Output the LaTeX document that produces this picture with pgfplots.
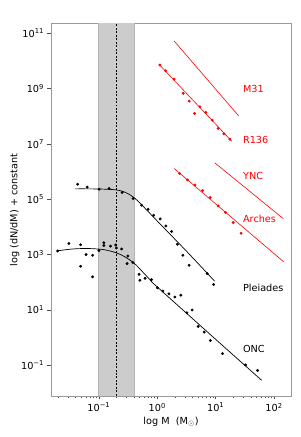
\documentclass[border=0pt]{standalone}
\usepackage{fontspec}
\setmainfont{DejaVu Sans}
\usepackage{pgfplots}
\pgfplotsset{compat=1.18}
\definecolor{bandgray}{HTML}{CCCCCC}
\definecolor{bandedge}{HTML}{B4B4B4}
\definecolor{spine}{HTML}{9A9A9A}
\newcommand{\fs}{\fontsize{9.7bp}{11bp}\selectfont}
\begin{document}
\begin{tikzpicture}
\begin{axis}[
  scale only axis, width=240bp, height=372bp,
  xmin=-1.82, xmax=2.29, ymin=-2.12, ymax=11.34,
  xtick={-1,0,1,2},
  xticklabels={10\textsuperscript{−1},10\textsuperscript{0},10\textsuperscript{1},10\textsuperscript{2}},
  minor xtick={-1.699,-1.523,-1.398,-1.301,-1.222,-1.155,-1.097,-1.046,
    -0.699,-0.523,-0.398,-0.301,-0.222,-0.155,-0.097,-0.046,
    0.301,0.477,0.602,0.699,0.778,0.845,0.903,0.954,
    1.301,1.477,1.602,1.699,1.778,1.845,1.903,1.954},
  ytick={-1,1,3,5,7,9,11},
  yticklabels={10\textsuperscript{−1},10\textsuperscript{1},10\textsuperscript{3},10\textsuperscript{5},10\textsuperscript{7},10\textsuperscript{9},10\textsuperscript{11}},
  tick pos=left, tick align=outside,
  major tick length=3.5bp, minor tick length=2bp,
  every tick/.style={black!70, line width=0.5pt},
  axis line style={spine, line width=1pt},
  tick label style={font=\fs},
  label style={font=\fs},
  xlabel={log M\ \ (M$_\odot$)},
  ylabel={log (dN/dM) + constant},
  xlabel style={yshift=2bp},
  ylabel style={yshift=-5bp},
  clip=true,
]
% shaded band
\addplot[fill=bandgray, draw=bandedge, line width=0.8pt] coordinates {(-1,-3) (-0.398,-3) (-0.398,12) (-1,12)} -- cycle;
\addplot[black, line width=0.5pt, dash pattern=on 2pt off 1.5pt] coordinates {(-0.699,-3) (-0.699,12)};

% M31 line
\addplot[red, line width=0.6pt] coordinates {(0.289,10.725) (1.392,8.018)};
% R136
\addplot[red, line width=0.6pt] coordinates {(0.029,9.884) (1.276,7.098)};
\addplot[red, only marks, mark=*, mark size=1.25pt] coordinates {
(0.045,9.855) (0.142,9.649) (0.289,9.348) (0.443,8.830) (0.546,8.550) (0.639,8.105)
(0.729,8.344) (0.832,8.141) (0.940,7.862) (1.043,7.562) (1.140,7.366) (1.243,7.174)};
% YNC
\addplot[red, line width=0.6pt] coordinates {(0.986,6.315) (2.156,4.300)};
% Arches
\addplot[red, line width=0.6pt] coordinates {(0.289,6.112) (2.168,2.728)};
\addplot[red, only marks, mark=*, mark size=1.25pt] coordinates {
(0.382,5.931) (0.519,5.699) (0.644,5.518) (0.776,5.315) (0.906,5.062)
(1.043,4.757) (1.170,4.518) (1.300,4.156) (1.437,3.768)};

% Pleiades
\addplot[black, line width=0.7pt, smooth] coordinates {
(-1.41,5.375) (-1.2,5.375) (-1.0,5.37) (-0.8,5.355) (-0.7,5.335) (-0.6,5.29)
(-0.5,5.20) (-0.4,5.06) (-0.3,4.87) (-0.2,4.65) (-0.1,4.43) (0,4.21) (0.5,3.12) (0.98,2.04)};
\addplot[black, only marks, mark=*, mark size=1.25pt] coordinates {
(-1.365,5.543) (-1.200,5.435) (-0.995,5.362) (-0.824,5.388) (-0.601,5.243) (-0.413,5.025)
(-0.269,4.783) (-0.156,4.638) (-0.063,4.420) (0.050,4.286) (0.147,4.033) (0.245,3.830)
(0.344,3.370) (0.438,2.971) (0.546,2.609) (0.854,2.308) (0.964,1.913)};

% ONC
\addplot[black, line width=0.7pt, smooth] coordinates {
(-1.714,3.13) (-1.5,3.19) (-1.3,3.215) (-1.1,3.21) (-0.9,3.17) (-0.7,3.06)
(-0.55,2.91) (-0.4,2.69) (-0.25,2.37) (-0.1,2.03) (0,1.825) (1.0,-0.07) (1.786,-1.55)};
\addplot[black, only marks, mark=*, mark size=1.25pt] coordinates {
(-1.707,3.127) (-1.514,3.395) (-1.313,3.351) (-1.219,2.996) (-1.108,2.971) (-1.313,2.572)
(-1.108,2.192) (-1.000,3.141) (-0.914,3.424) (-0.914,3.326) (-0.800,3.304) (-0.711,3.344)
(-0.700,3.236) (-0.610,3.199) (-0.503,2.946) (-0.517,2.670) (-0.418,2.710) (-0.312,2.283)
(-0.298,2.065) (-0.209,2.138) (-0.098,2.091) (0.002,1.793) (0.096,1.678) (0.199,1.576)
(0.301,1.460) (0.404,1.529) (0.507,0.895) (0.596,0.993) (0.700,0.399) (0.803,0.192)
(0.909,-0.109) (1.118,-0.587) (1.512,-0.996) (1.717,-1.196)};

% labels
\node[anchor=west, red, font=\fs, inner sep=0pt] at (axis cs:1.466,8.975) {M31};
\node[anchor=west, red, font=\fs, inner sep=0pt] at (axis cs:1.466,7.138) {R136};
\node[anchor=west, red, font=\fs, inner sep=0pt] at (axis cs:1.466,5.844) {YNC};
\node[anchor=west, red, font=\fs, inner sep=0pt] at (axis cs:1.466,4.300) {Arches};
\node[anchor=west, black, font=\fs, inner sep=0pt] at (axis cs:1.466,1.800) {Pleiades};
\node[anchor=west, black, font=\fs, inner sep=0pt] at (axis cs:1.466,-0.410) {ONC};
\end{axis}
\pgfresetboundingbox
\path[use as bounding box] (current axis.south west) ++(-51bp,-41bp) rectangle ++(301bp,437bp);
\end{tikzpicture}
\end{document}
